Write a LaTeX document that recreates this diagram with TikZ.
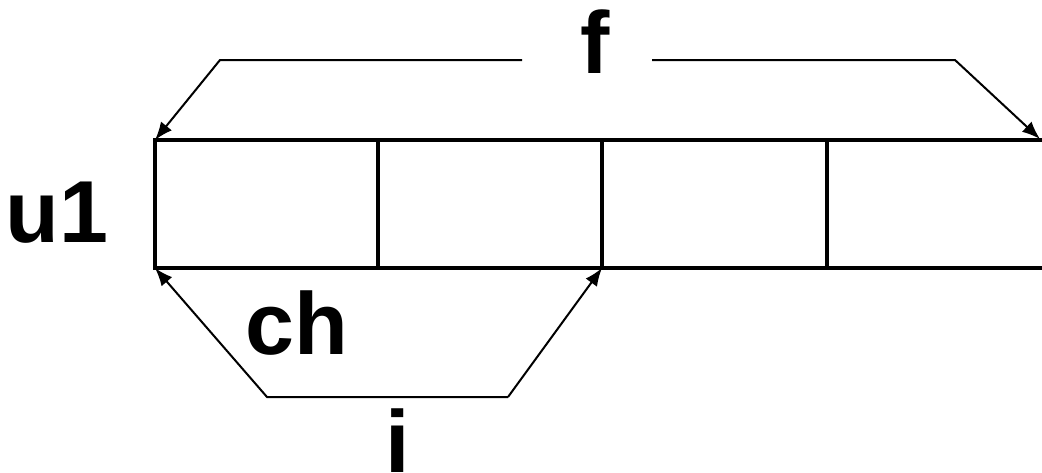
\documentclass[tikz,border=0pt]{standalone}
\usepackage{fontspec}
\setmainfont{Liberation Sans}
\usetikzlibrary{arrows.meta}
\begin{document}
\begin{tikzpicture}[x=1pt,y=-1pt,
  cell/.style={draw,line width=3.5pt,inner sep=0pt,outer sep=0pt,minimum height=128pt},
  brk/.style={line width=2pt,-{Latex[length=18pt,width=14pt]}},
  lbl/.style={font=\fontsize{88}{88}\selectfont\bfseries,anchor=base,inner sep=0pt}]
\useasboundingbox (0,0) rectangle (1042,472);
\node[cell,minimum width=223pt] (c1) at (266.5,204) {};
\node[cell,minimum width=224pt] (c2) at (490,204) {};
\node[cell,minimum width=225pt] (c3) at (714.5,204) {};
\node[cell,minimum width=225pt] (c4) at (939.5,204) {};
\node[lbl] (u1) at (57,242) {u1};
\node[lbl] (f) at (595,73) {f};
\node[lbl] (ch) at (297,354) {ch};
\node[lbl] (i) at (398,472) {i};
\coordinate (fl) at (522,60);
\coordinate (fr) at (652,60);
\coordinate (fre) at (1040,139);
\coordinate (il) at (508,397);
\draw[brk] (fl) -- (220,60) -- (c1.north west);
\draw[brk] (fr) -- (955,60) -- (fre);
\draw[brk] (il) -- (267,397) -- (c1.south west);
\draw[brk] (il) -- (c2.south east);
\end{tikzpicture}
\end{document}
